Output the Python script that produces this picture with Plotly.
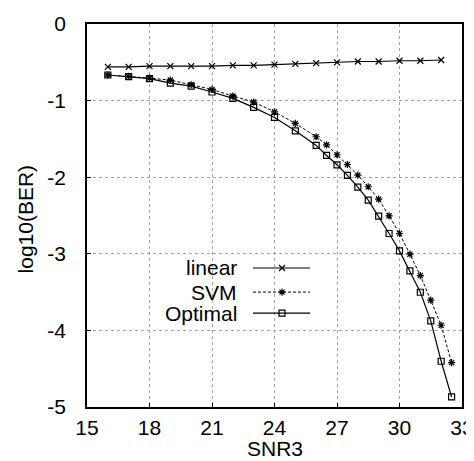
import plotly.graph_objects as go

snr_linear = [16, 17, 18, 19, 20, 21, 22, 23, 24, 25, 26, 27, 28, 29, 30, 31, 32]
ber_linear = [-0.56, -0.56, -0.55, -0.55, -0.55, -0.55, -0.54, -0.54, -0.53,
              -0.52, -0.51, -0.50, -0.49, -0.49, -0.48, -0.48, -0.47]

snr_curve = [16, 17, 18, 19, 20, 21, 22, 23, 24, 25, 26, 26.5, 27, 27.5, 28,
             28.5, 29, 29.5, 30, 30.5, 31, 31.5, 32, 32.5]
ber_svm = [-0.666, -0.684, -0.706, -0.732, -0.793, -0.854, -0.941, -1.019,
           -1.146, -1.298, -1.472, -1.577, -1.707, -1.834, -1.973, -2.125,
           -2.287, -2.504, -2.735, -3.005, -3.284, -3.606, -3.933, -4.421]
ber_optimal = [-0.666, -0.688, -0.714, -0.771, -0.810, -0.888, -0.971, -1.089,
               -1.220, -1.394, -1.585, -1.716, -1.838, -1.977, -2.130, -2.300,
               -2.509, -2.735, -2.962, -3.223, -3.502, -3.876, -4.403, -4.869]

x_ticks = [15, 18, 21, 24, 27, 30, 33]
y_ticks = [0, -1, -2, -3, -4, -5]
legend_names = ["linear", "SVM", "Optimal"]
x_title = "SNR3"
y_title = "log10(BER)"

FONT = "Liberation Sans, Arial, Helvetica, sans-serif"
FS = 21

styles = [
    dict(dash="solid", width=1.1, symbol="x-thin-open", size=6),
    dict(dash="3px,2px", width=1.0, symbol="asterisk-open", size=6),
    dict(dash="solid", width=1.2, symbol="square-open", size=6),
]

fig = go.Figure()
series = [(snr_linear, ber_linear), (snr_curve, ber_svm), (snr_curve, ber_optimal)]
for (xs, ys), st, name in zip(series, styles, legend_names):
    fig.add_trace(go.Scatter(
        x=xs, y=ys, mode="lines+markers", name=name, showlegend=False,
        line=dict(color="black", width=st["width"], dash=st["dash"]),
        marker=dict(symbol=st["symbol"], size=st["size"], color="black",
                    line=dict(color="black", width=1.2)),
    ))

# custom legend (text right-aligned, key sample to the right)
leg_y = [0.363, 0.300, 0.245]
for name, st, yy in zip(legend_names, styles, leg_y):
    fig.add_annotation(x=0.405, y=yy, xref="paper", yref="paper", text=name,
                       showarrow=False, xanchor="right", yanchor="middle",
                       font=dict(family=FONT, size=FS, color="black"))
    fig.add_trace(go.Scatter(
        x=[0.4426, 0.5948], y=[yy, yy], xaxis="x2", yaxis="y2", mode="lines",
        showlegend=False, hoverinfo="skip",
        line=dict(color="black", width=st["width"], dash=st["dash"])))
    fig.add_trace(go.Scatter(
        x=[0.52], y=[yy], xaxis="x2", yaxis="y2", mode="markers",
        showlegend=False, hoverinfo="skip",
        marker=dict(symbol=st["symbol"], size=st["size"], color="black",
                    line=dict(color="black", width=1.2))))

# axis titles as annotations for precise placement
fig.add_annotation(x=0.5, y=-0.141, xref="paper", yref="paper", text=x_title,
                   showarrow=False, xanchor="center", yanchor="bottom", borderpad=0,
                   font=dict(family=FONT, size=FS, color="black"))
fig.add_annotation(x=-0.165, y=0.49, xref="paper", yref="paper", text=y_title,
                   showarrow=False, xanchor="center", yanchor="middle", textangle=-90,
                   font=dict(family=FONT, size=FS, color="black"))

axis_common = dict(
    showline=True, linecolor="black", linewidth=1.5, mirror=True,
    showgrid=True, gridcolor="#a0a0a0", griddash="dot", gridwidth=1,
    ticks="inside", ticklen=4, tickcolor="black", zeroline=False,
    tickfont=dict(family=FONT, size=FS, color="black"),
)

# page body has an 8px default margin: size figure so it fits the 474x461 window
fig.update_layout(
    width=466, height=453,
    margin=dict(l=79, r=12, t=16, b=54),
    paper_bgcolor="white", plot_bgcolor="white",
    font=dict(family=FONT, color="black"),
    showlegend=False,
    xaxis=dict(range=[15, 33], tickvals=x_ticks, ticklabelstandoff=1,
               automargin=False, **axis_common),
    yaxis=dict(range=[-5, 0], tickvals=y_ticks, ticktext=[str(v) for v in y_ticks],
               ticklabelstandoff=15, automargin=False, **axis_common),
    xaxis2=dict(range=[0, 1], overlaying="x", visible=False, fixedrange=True),
    yaxis2=dict(range=[0, 1], overlaying="y", visible=False, fixedrange=True),
)

fig.write_html("out.html")
